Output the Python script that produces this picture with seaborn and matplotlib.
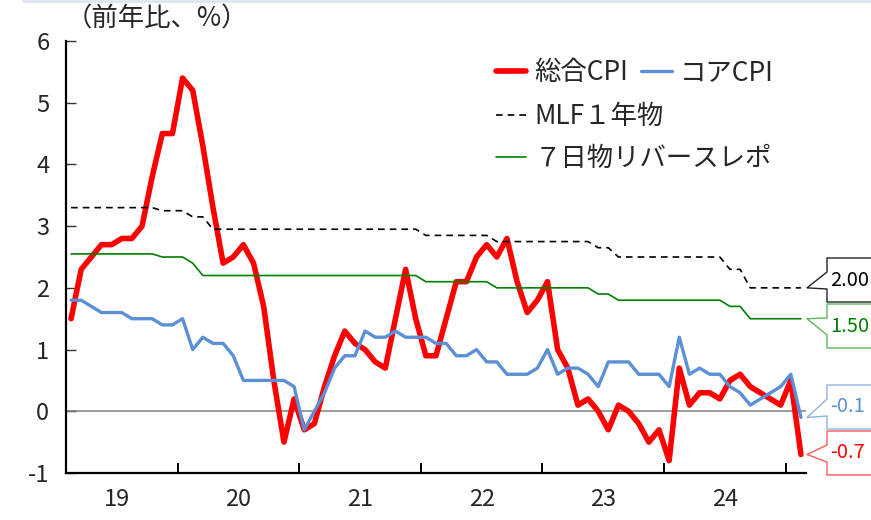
import numpy as np
import pandas as pd
import matplotlib
matplotlib.use("Agg")
import matplotlib.pyplot as plt
import seaborn as sns
from matplotlib.lines import Line2D

# monthly data, 2019-02 .. 2025-02 (y/y %, policy rates in %)
cpi_total = [1.5, 2.3, 2.5, 2.7, 2.7, 2.8, 2.8, 3.0, 3.8, 4.5, 4.5,
             5.4, 5.2, 4.3, 3.3, 2.4, 2.5, 2.7, 2.4, 1.7, 0.5, -0.5, 0.2,
             -0.3, -0.2, 0.4, 0.9, 1.3, 1.1, 1.0, 0.8, 0.7, 1.5, 2.3, 1.5,
             0.9, 0.9, 1.5, 2.1, 2.1, 2.5, 2.7, 2.5, 2.8, 2.1, 1.6, 1.8,
             2.1, 1.0, 0.7, 0.1, 0.2, 0.0, -0.3, 0.1, 0.0, -0.2, -0.5, -0.3,
             -0.8, 0.7, 0.1, 0.3, 0.3, 0.2, 0.5, 0.6, 0.4, 0.3, 0.2, 0.1,
             0.5, -0.7]
cpi_core = [1.8, 1.8, 1.7, 1.6, 1.6, 1.6, 1.5, 1.5, 1.5, 1.4, 1.4,
            1.5, 1.0, 1.2, 1.1, 1.1, 0.9, 0.5, 0.5, 0.5, 0.5, 0.5, 0.4,
            -0.3, 0.0, 0.3, 0.7, 0.9, 0.9, 1.3, 1.2, 1.2, 1.3, 1.2, 1.2,
            1.2, 1.1, 1.1, 0.9, 0.9, 1.0, 0.8, 0.8, 0.6, 0.6, 0.6, 0.7,
            1.0, 0.6, 0.7, 0.7, 0.6, 0.4, 0.8, 0.8, 0.8, 0.6, 0.6, 0.6,
            0.4, 1.2, 0.6, 0.7, 0.6, 0.6, 0.4, 0.3, 0.1, 0.2, 0.3, 0.4,
            0.6, -0.1]
mlf_1y = [3.30] * 9 + [3.25, 3.25] + \
         [3.25, 3.15, 3.15] + [2.95] * 9 + \
         [2.95] * 12 + \
         [2.85] * 7 + [2.75] * 5 + \
         [2.75] * 5 + [2.65, 2.65] + [2.50] * 5 + \
         [2.50] * 6 + [2.30, 2.30] + [2.00] * 4 + \
         [2.00, 2.00]
repo_7d = [2.55] * 9 + [2.50, 2.50] + \
          [2.50, 2.40] + [2.20] * 10 + \
          [2.20] * 12 + \
          [2.10] * 7 + [2.00] * 5 + \
          [2.00] * 5 + [1.90, 1.90] + [1.80] * 5 + \
          [1.80] * 6 + [1.70, 1.70] + [1.50] * 4 + \
          [1.50, 1.50]

series_names = ["総合CPI", "コアCPI", "MLF１年物", "７日物リバースレポ"]
end_labels = ["-0.7", "-0.1", "2.00", "1.50"]
year_labels = ["19", "20", "21", "22", "23", "24"]
y_ticks = [-1, 0, 1, 2, 3, 4, 5, 6]

df = pd.DataFrame({
    "month": np.arange(len(cpi_total)),
    series_names[0]: cpi_total,
    series_names[1]: cpi_core,
    series_names[2]: mlf_1y,
    series_names[3]: repo_7d,
})

W, H = 871, 520
sns.set_style("white")
plt.rcParams["font.family"] = ["Noto Sans CJK JP", "DejaVu Sans"]

fig = plt.figure(figsize=(W / 100, H / 100), dpi=100)
ax = fig.add_axes([66 / W, 47 / H, 740 / W, 432 / H])

red, blue, green = "#FF0000", "#5B8FD6", "#008000"
ax.axhline(0, color="#808080", lw=1.1, zorder=1)
sns.lineplot(data=df, x="month", y=series_names[0], ax=ax, color=red, lw=4.0,
             label=series_names[0], zorder=3)
sns.lineplot(data=df, x="month", y=series_names[1], ax=ax, color=blue, lw=2.4,
             label=series_names[1], zorder=4)
sns.lineplot(data=df, x="month", y=series_names[2], ax=ax, color="black", lw=1.2,
             linestyle=(0, (4, 3)), label=series_names[2], zorder=5)
sns.lineplot(data=df, x="month", y=series_names[3], ax=ax, color=green, lw=1.2,
             label=series_names[3], zorder=5)

n = len(df)
ax.set_xlim(-0.5, n - 0.5)
ax.set_ylim(-1, 6)
ax.set_xlabel("")
ax.set_ylabel("")

# year boundaries as ticks, labels centred on each year
ax.set_xticks([12 * k - 1.5 for k in range(1, len(year_labels) + 1)])
ax.set_xticklabels([])
ax.set_xticks([12 * k + 4.5 for k in range(len(year_labels))], minor=True)
ax.set_xticklabels(year_labels, minor=True)
ax.tick_params(axis="x", which="major", direction="in", length=7, width=1.4,
               color="black", bottom=True)
ax.tick_params(axis="x", which="minor", length=0, pad=11, labelsize=17)
ax.set_yticks(y_ticks)
ax.set_yticklabels([str(v) for v in y_ticks])
ax.tick_params(axis="y", direction="in", length=7, width=1.0, color="#333333",
               left=True, pad=12, labelsize=17)

for side in ["top", "right"]:
    ax.spines[side].set_visible(False)
for side in ["left", "bottom"]:
    ax.spines[side].set_color("black")
    ax.spines[side].set_linewidth(1.6)

# legend: first row two entries, then one per row
handles, labels = ax.get_legend_handles_labels()
ax.get_legend().remove()
leg_kw = dict(frameon=False, fontsize=19, handlelength=1.15, handletextpad=0.3,
              borderpad=0, borderaxespad=0, bbox_transform=fig.transFigure,
              loc="upper left")
leg1 = ax.legend(handles[:2], labels[:2], ncol=2, columnspacing=0.5,
                 bbox_to_anchor=(496 / W, 1 - 59 / H), **leg_kw)
ax.add_artist(leg1)
ax.legend(handles[2:], labels[2:], ncol=1, labelspacing=0.56,
          bbox_to_anchor=(496 / W, 1 - 103 / H), **leg_kw)

fig.text(66 / W, 1 - 19 / H, "（前年比、%）", fontsize=19, va="center", ha="left")
fig.add_artist(Line2D([23 / W, 1], [1 - 1 / H, 1 - 1 / H], color="#DCE6F2", lw=2,
                      transform=fig.transFigure))

# end-of-series callouts
def px(x, y):
    return x / W, 1 - y / H

last_vals = [cpi_total[-1], cpi_core[-1], mlf_1y[-1], repo_7d[-1]]
box_tops = [431, 385, 258, 304]
edge_cols = ["#FF5A5A", "#8DB4E2", "#222222", "#5CB85C"]
text_cols = [red, blue, "black", green]
tip_x, box_x, box_h = 807, 827, 44
for val, lab, top, ec, tc in zip(last_vals, end_labels, box_tops, edge_cols, text_cols):
    tip_y = H - ax.transData.transform((0, val))[1]
    pts = [(W + 5, top), (box_x, top), (box_x, top + 14), (tip_x, tip_y),
           (box_x, top + 31), (box_x, top + box_h), (W + 5, top + box_h)]
    xs, ys = zip(*[px(x, y) for x, y in pts])
    fig.add_artist(Line2D(xs, ys, color=ec, lw=1.0, transform=fig.transFigure))
    fig.text(*px(830, top + box_h / 2), lab, color=tc, fontsize=14.5,
             va="center", ha="left")

fig.savefig("out.png", dpi=100)
